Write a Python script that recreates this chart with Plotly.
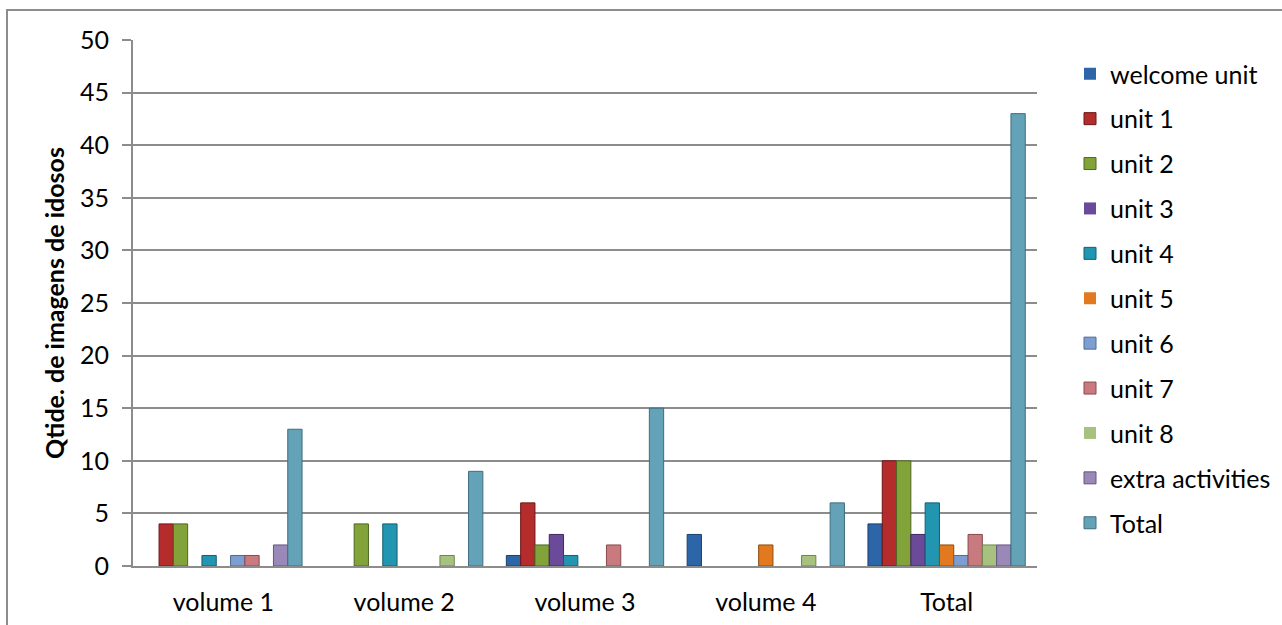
import plotly.graph_objects as go

# Categories on the x axis
categories = ["volume 1", "volume 2", "volume 3", "volume 4", "Total"]

# Image counts per unit for each volume (last entry is the overall total)
welcome_unit = [0, 0, 1, 3, 4]
unit_1 = [4, 0, 6, 0, 10]
unit_2 = [4, 4, 2, 0, 10]
unit_3 = [0, 0, 3, 0, 3]
unit_4 = [1, 4, 1, 0, 6]
unit_5 = [0, 0, 0, 2, 2]
unit_6 = [1, 0, 0, 0, 1]
unit_7 = [1, 0, 2, 0, 3]
unit_8 = [0, 1, 0, 1, 2]
extra_activities = [2, 0, 0, 0, 2]
total = [13, 9, 15, 6, 43]

series_names = ["welcome unit", "unit 1", "unit 2", "unit 3", "unit 4", "unit 5",
                "unit 6", "unit 7", "unit 8", "extra activities", "Total"]
series_values = [welcome_unit, unit_1, unit_2, unit_3, unit_4, unit_5,
                 unit_6, unit_7, unit_8, extra_activities, total]

fill_colors = ["#2C65A8", "#B52C2C", "#82A33A", "#6B4A9A", "#2296B0", "#E2791E",
               "#7E9ED2", "#C97A7E", "#A6C27E", "#9A88B8", "#64A2B8"]
edge_colors = ["#1C3F6C", "#6E1616", "#4F6621", "#3F2A5E", "#135E70", "#8E4A10",
               "#4E6A96", "#8A4A4E", "#6E8550", "#63567E", "#3C6E80"]

FONT = "Lato, 'Open Sans', sans-serif"

fig = go.Figure()
for i, (name, vals) in enumerate(zip(series_names, series_values)):
    fig.add_trace(go.Bar(
        name=name,
        x=categories,
        y=vals,
        legendgroup=name,
        marker=dict(color=fill_colors[i],
                    line=dict(color=edge_colors[i],
                              width=[1 if v > 0 else 0 for v in vals])),
    ))

# Plot area geometry in pixels (used to place the outer frame and legend)
W, H = 1282, 625
L, R, T, B = 133, 245, 40, 59
pw, ph = W - L - R, H - T - B

def px_x(px):
    return (px - L) / pw

def px_y(py):
    return (H - B - py) / ph

fig.add_shape(type="rect", xref="paper", yref="paper",
              x0=px_x(7), x1=px_x(1300), y0=px_y(10), y1=px_y(640),
              line=dict(color="#8C8C8C", width=2), fillcolor="rgba(0,0,0,0)",
              layer="below")

fig.update_layout(
    width=W, height=H,
    margin=dict(l=L, r=R, t=T, b=B, autoexpand=False),
    paper_bgcolor="white",
    plot_bgcolor="white",
    barmode="group",
    bargap=0.13,
    bargroupgap=0,
    font=dict(family=FONT, size=25, color="black"),
    legend=dict(
        x=px_x(1070), xanchor="left",
        y=px_y(51), yanchor="top",
        traceorder="grouped",
        tracegroupgap=9.4,
        font=dict(family=FONT, size=25, color="black"),
        itemwidth=30,
        bgcolor="rgba(0,0,0,0)",
    ),
    xaxis=dict(
        automargin=False,
        showgrid=False,
        showline=True, linecolor="#8C8C8C", linewidth=2,
        ticks="",
        tickfont=dict(family=FONT, size=25, color="black"),
        ticklabelstandoff=13,
    ),
    yaxis=dict(
        automargin=False,
        range=[0, 50],
        dtick=5,
        showgrid=True, gridcolor="#8C8C8C", gridwidth=2,
        showline=True, linecolor="#8C8C8C", linewidth=2,
        ticks="outside", ticklen=9, tickcolor="#8C8C8C", tickwidth=2,
        tickfont=dict(family=FONT, size=25, color="black"),
        ticklabelstandoff=8,
        zeroline=False,
        title=dict(text="<b>Qtide. de imagens de idosos</b>",
                   font=dict(family=FONT, size=25, color="black"),
                   standoff=8),
    ),
)

fig.write_html("out.html")
